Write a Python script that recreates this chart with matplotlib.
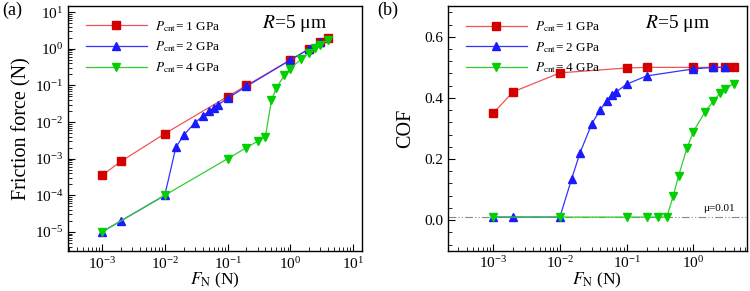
import numpy as np
import matplotlib
matplotlib.use("Agg")
import matplotlib.pyplot as plt

plt.rcParams['font.family'] = ['Liberation Serif', 'DejaVu Serif']
plt.rcParams['mathtext.fontset'] = 'stix'

# 数据
fn_1 = [1e-3, 2e-3, 1e-2, 0.1, 0.2, 1, 2, 3, 4]
cof_1 = [0.35, 0.42, 0.482, 0.498, 0.5, 0.5, 0.5, 0.5, 0.5]

fn_2 = [1e-3, 2e-3, 1e-2, 0.015, 0.02, 0.03, 0.04, 0.05, 0.06, 0.07, 0.1, 0.2, 1, 2, 3]
cof_2 = [0.01, 0.01, 0.01, 0.135, 0.22, 0.315, 0.36, 0.39, 0.41, 0.42, 0.445, 0.472, 0.495, 0.5, 0.5]

fn_4 = [1e-3, 1e-2, 0.1, 0.2, 0.3, 0.4, 0.5, 0.6, 0.8, 1, 1.5, 2, 2.5, 3, 4]
cof_4 = [0.01, 0.01, 0.01, 0.01, 0.01, 0.01, 0.08, 0.145, 0.235, 0.29, 0.355, 0.39, 0.415, 0.43, 0.447]

labels = [r'$P_{\rm cnt}$= 1 GPa', r'$P_{\rm cnt}$= 2 GPa', r'$P_{\rm cnt}$= 4 GPa']
mu_line = 0.01

series = [
    (fn_1, cof_1, 's', '#f05555', '#d40000', 5.5),
    (fn_2, cof_2, '^', '#3333ff', '#1a1aff', 5.8),
    (fn_4, cof_4, 'v', '#33cc33', '#00d000', 5.8),
]

fig = plt.figure(figsize=(7.5, 2.91), dpi=100)
ax1 = fig.add_axes([0.0907, 0.1375, 0.392, 0.842])
ax2 = fig.add_axes([0.597, 0.1385, 0.3987, 0.84])

for (x, c, m, lc, mc, ms), lab in zip(series, labels):
    f = np.array(x) * np.array(c)
    ax1.plot(x, f, color=lc, lw=0.9, marker=m, ms=ms, mfc=mc, mec=mc, label=lab)
    ax2.plot(x, c, color=lc, lw=0.9, marker=m, ms=ms, mfc=mc, mec=mc, label=lab)

# (a)
ax1.set_xscale('log')
ax1.set_yscale('log')
ax1.set_xlim(10**-3.54, 10**1.14)
ax1.set_ylim(10**-5.52, 10**1.17)
ax1.set_xticks([1e-3, 1e-2, 1e-1, 1e0, 1e1])
ax1.set_yticks([1e-5, 1e-4, 1e-3, 1e-2, 1e-1, 1e0, 1e1])
ax1.set_ylabel('Friction force (N)', fontsize=14.5, labelpad=2)
ax1.set_xlabel(r'$F_{\rm N}$ (N)', fontsize=12.5, labelpad=-0.5)

# (b)
ax2.set_xscale('log')
ax2.set_xlim(10**-3.68, 10**0.8)
ax2.set_ylim(-0.1, 0.7)
ax2.set_xticks([1e-3, 1e-2, 1e-1, 1e0])
ax2.set_yticks([0.0, 0.2, 0.4, 0.6])
ax2.set_yticks(np.arange(-0.08, 0.7, 0.04), minor=True)
ax2.yaxis.set_major_formatter(matplotlib.ticker.FormatStrFormatter('%.1f'))
ax2.set_ylabel('COF', fontsize=14.5, labelpad=6)
ax2.set_xlabel(r'$F_{\rm N}$ (N)', fontsize=12.5, labelpad=-0.5)
ax2.axhline(mu_line, color='#888888', lw=0.8, dashes=(7, 2, 1, 2, 1, 2), zorder=0)
ax2.text(2.4, mu_line + 0.012, r'μ=0.01', fontsize=8, ha='center', va='bottom')

for ax in (ax1, ax2):
    ax.tick_params(which='both', direction='in', top=False, right=False, labelsize=11)
    ax.tick_params(which='major', length=5, width=0.8)
    ax.tick_params(which='minor', length=3, width=0.6)
    for s in ax.spines.values():
        s.set_linewidth(1.0)
    ax.legend(loc='upper left', bbox_to_anchor=(0.03, 0.985), frameon=False, fontsize=9.5,
              handlelength=4.6, labelspacing=0.45, handletextpad=0.6, borderaxespad=0.3)
    ax.text(0.66, 0.93, r'$R$=5 μm', transform=ax.transAxes, fontsize=14, va='center')

fig.text(0.003, 0.965, '(a)', fontsize=13, va='center')
fig.text(0.503, 0.965, '(b)', fontsize=13, va='center')

plt.savefig('out.png', dpi=100)
